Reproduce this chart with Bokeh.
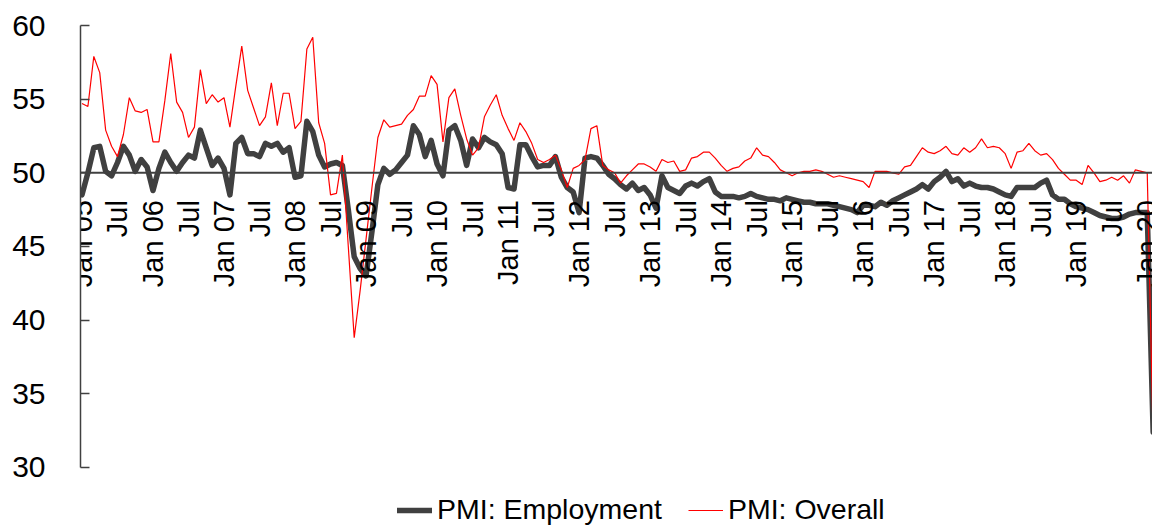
import math
from bokeh.plotting import figure
from bokeh.models import Range1d, Span, Legend, LegendItem, FixedTicker
from bokeh.embed import file_html
from bokeh.resources import INLINE
from bokeh.core.properties import value

# ---- data (monthly, Jan 2005 .. Feb 2020) ----
employment = [
    48.5, 50.0, 51.7, 51.8, 50.1, 49.8, 50.7, 51.8, 51.2, 50.1, 50.9, 50.4,
    48.8, 50.3, 51.4, 50.7, 50.1, 50.7, 51.2, 51.0, 52.9, 51.7, 50.5, 51.0,
    50.3, 48.5, 52.0, 52.4, 51.3, 51.3, 51.1, 52.0, 51.8, 52.0, 51.4, 51.7,
    49.7, 49.8, 53.5, 52.8, 51.2, 50.4, 50.6, 50.7, 50.5, 47.5, 44.3, 43.5,
    43.0, 46.0, 49.2, 50.3, 49.9, 50.2, 50.7, 51.2, 53.2, 52.6, 51.1, 52.2,
    50.6, 49.8, 52.9, 53.2, 52.2, 50.5, 52.3, 51.7, 52.4, 52.1, 51.9, 51.3,
    49.0, 48.9, 51.9, 51.9, 51.1, 50.4, 50.5, 50.5, 51.1, 49.7, 49.0, 48.7,
    47.3, 51.0, 51.1, 51.0, 50.5, 49.9, 49.6, 49.2, 48.9, 49.3, 48.8, 49.0,
    48.5, 47.6, 49.8, 49.0, 48.8, 48.6, 49.1, 49.3, 49.1, 49.4, 49.6, 48.7,
    48.4, 48.4, 48.4, 48.3, 48.4, 48.6, 48.4, 48.3, 48.2, 48.2, 48.1, 48.3,
    48.2, 48.1, 48.0, 48.0, 47.9, 47.9, 47.9, 47.8, 47.7, 47.6, 47.5, 47.3,
    47.8, 47.8, 47.7, 48.0, 47.8, 48.1, 48.3, 48.5, 48.7, 48.9, 49.2, 48.9,
    49.4, 49.7, 50.1, 49.4, 49.6, 49.1, 49.3, 49.1, 49.0, 49.0, 48.9, 48.7,
    48.5, 48.4, 49.0, 49.0, 49.0, 49.0, 49.3, 49.5, 48.5, 48.2, 48.2, 47.9,
    47.7, 47.6, 47.5, 47.3, 47.1, 47.0, 46.9, 46.9, 47.0, 47.2, 47.3, 47.3,
    47.3, 32.4,
]
overall = [
    54.7, 54.5, 57.9, 56.8, 52.9, 51.8, 51.1, 52.6, 55.1, 54.2, 54.1, 54.3,
    52.1, 52.1, 54.9, 58.1, 54.8, 54.1, 52.4, 53.1, 57.0, 54.7, 55.3, 54.8,
    55.1, 53.1, 55.9, 58.6, 55.6, 54.4, 53.2, 53.8, 56.1, 53.2, 55.4, 55.4,
    53.0, 53.5, 58.4, 59.2, 53.4, 52.0, 48.5, 48.6, 51.2, 45.0, 38.8, 42.0,
    45.5, 49.0, 52.4, 53.6, 53.1, 53.2, 53.3, 53.9, 54.3, 55.2, 55.2, 56.6,
    56.0, 52.1, 55.1, 55.7, 53.9, 52.3, 51.2, 51.7, 53.8, 54.6, 55.3, 53.9,
    53.0, 52.2, 53.4, 52.8, 52.0, 50.9, 50.7, 50.9, 51.2, 50.2, 49.0, 50.3,
    50.5, 50.9, 53.0, 53.2, 50.5, 50.2, 50.0, 49.3, 49.8, 50.2, 50.6, 50.6,
    50.4, 50.1, 50.9, 50.7, 50.8, 50.1, 50.2, 51.0, 51.1, 51.4, 51.4, 51.0,
    50.5, 50.1, 50.3, 50.4, 50.8, 51.0, 51.7, 51.2, 51.1, 50.7, 50.2, 50.0,
    49.8, 50.0, 50.1, 50.1, 50.2, 50.1, 49.9, 49.7, 49.8, 49.7, 49.6, 49.5,
    49.4, 49.0, 50.1, 50.1, 50.1, 50.0, 49.9, 50.4, 50.5, 51.1, 51.7, 51.4,
    51.3, 51.5, 51.8, 51.3, 51.2, 51.7, 51.4, 51.7, 52.3, 51.7, 51.8, 51.7,
    51.3, 50.3, 51.4, 51.5, 52.0, 51.5, 51.2, 51.3, 50.9, 50.3, 49.9, 49.5,
    49.5, 49.2, 50.5, 50.0, 49.4, 49.5, 49.7, 49.5, 49.8, 49.3, 50.2, 50.1,
    50.0, 32.0,
]
months = list(range(len(employment)))

tick_months = list(range(0, 181, 6))
tick_labels = [
    "Jan 05", "Jul", "Jan 06", "Jul", "Jan 07", "Jul", "Jan 08", "Jul",
    "Jan 09", "Jul", "Jan 10", "Jul", "Jan 11", "Jul", "Jan 12", "Jul",
    "Jan 13", "Jul", "Jan 14", "Jul", "Jan 15", "Jul", "Jan 16", "Jul",
    "Jan 17", "Jul", "Jan 18", "Jul", "Jan 19", "Jul", "Jan 20",
]
y_ticks = [30, 35, 40, 45, 50, 55, 60]
series_names = ["PMI: Employment", "PMI: Overall"]

FONT = "Liberation Sans"
DARK = "#404040"

p = figure(
    width=1152, height=526,
    output_backend="svg", toolbar_location=None,
    x_range=Range1d(-0.25, 180.89), y_range=Range1d(25.99, 60.0),
    x_axis_type=None,
    min_border_left=80, min_border_right=0, min_border_top=25, min_border_bottom=0,
)
p.outline_line_color = None
p.xgrid.visible = False
p.ygrid.visible = False
p.background_fill_color = "white"
p.border_fill_color = "white"

ax = p.yaxis[0]
ax.ticker = FixedTicker(ticks=y_ticks)
ax.bounds = (30, 60)
ax.major_tick_in = 9
ax.major_tick_out = 0
ax.minor_tick_line_color = None
ax.axis_line_color = DARK
ax.axis_line_width = 1.5
ax.major_tick_line_color = DARK
ax.major_tick_line_width = 1.5
ax.major_label_text_font = FONT
ax.major_label_text_font_size = "30px"
ax.major_label_text_color = "black"
ax.major_label_standoff = 35

# the 50 line acting as x axis
p.add_layout(Span(location=50, dimension="width", line_color=DARK, line_width=2))

r_emp = p.line(months, employment, line_color=DARK, line_width=5.5,
               line_join="round", line_cap="round")
r_all = p.line(months, overall, line_color="#ff0000", line_width=1.2)

label_y = 48.15
p.text(x=tick_months, y=[label_y] * len(tick_months), text=tick_labels,
       angle=math.pi / 2, text_align="right", text_baseline="middle",
       text_font=value(FONT), text_font_size="29px", text_color="black")

legend = Legend(
    items=[LegendItem(label=series_names[0], renderers=[r_emp]),
           LegendItem(label=series_names[1], renderers=[r_all])],
    orientation="horizontal", location=(317, 0),
    glyph_width=35, glyph_height=20, label_standoff=5, spacing=26,
    padding=0, margin=0, border_line_color=None, background_fill_alpha=0,
    label_text_font=FONT, label_text_font_size="28.5px", label_text_color="black",
)
p.add_layout(legend, "center")

open("out.html", "w").write(file_html(p, INLINE))
